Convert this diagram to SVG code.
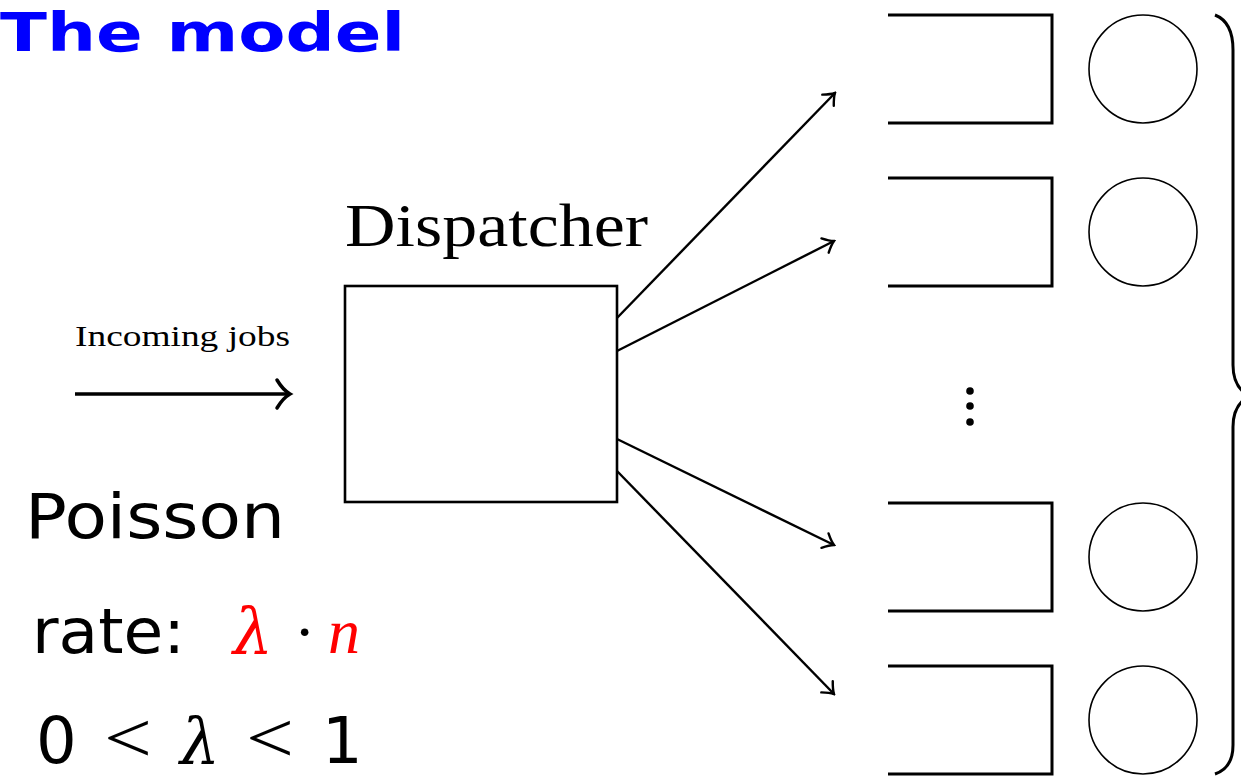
<svg xmlns="http://www.w3.org/2000/svg" width="1241" height="777" viewBox="0 0 1241 777">
<style>
.title{font-family:"DejaVu Sans","Liberation Sans",sans-serif;font-weight:bold;fill:#0000ff}
.serif{font-family:"Liberation Serif","DejaVu Serif",serif;fill:#000}
.sans{font-family:"DejaVu Sans","Liberation Sans",sans-serif;fill:#000}
.lam{font-family:"DejaVu Serif","Liberation Serif",serif;font-style:italic}
.mathit{font-family:"Liberation Serif","DejaVu Serif",serif;font-style:italic}
.rel{font-family:"Liberation Serif","DejaVu Serif",serif;fill:#000}
.queue{fill:none;stroke:#000;stroke-width:3}
.server{fill:none;stroke:#000;stroke-width:1.6}
.conn{fill:none;stroke:#000;stroke-width:2.4}
</style>
<defs>
<marker id="ah" markerUnits="userSpaceOnUse" viewBox="-14 -10 16 20" markerWidth="16" markerHeight="20" refX="0" refY="0" orient="auto">
<path d="M-10,-8 Q-4,-2 0,0 Q-4,2 -10,8" fill="none" stroke="#000" stroke-width="2.4" stroke-linecap="round"/>
</marker>
</defs>
<rect width="1241" height="777" fill="#fff"/>
<text class="title" x="0" y="51" font-size="54" textLength="405" lengthAdjust="spacingAndGlyphs">The model</text>

<g id="incoming">
<text class="serif" x="75" y="346" font-size="29" textLength="215" lengthAdjust="spacingAndGlyphs">Incoming jobs</text>
<line x1="75" y1="394" x2="289" y2="394" stroke="#000" stroke-width="3.5"/>
<path d="M277,380 Q283,390 290,394 Q283,398 277,408" fill="none" stroke="#000" stroke-width="3.5" stroke-linecap="round"/>
</g>

<g id="dispatcher">
<text class="serif" x="345" y="246" font-size="62" textLength="303" lengthAdjust="spacingAndGlyphs">Dispatcher</text>
<rect x="345" y="286" width="272" height="216" fill="none" stroke="#000" stroke-width="2.6"/>
</g>

<g id="connectors">
<line class="conn" x1="617" y1="318" x2="835" y2="93" marker-end="url(#ah)"/>
<line class="conn" x1="617" y1="351" x2="834" y2="241" marker-end="url(#ah)"/>
<line class="conn" x1="617" y1="439" x2="834" y2="545" marker-end="url(#ah)"/>
<line class="conn" x1="617" y1="471" x2="834" y2="694" marker-end="url(#ah)"/>
</g>

<g id="queue1">
<path class="queue" d="M888,15 H1052 V123 H888"/>
<circle class="server" cx="1143" cy="69" r="54"/>
</g>
<g id="queue2">
<path class="queue" d="M888,178 H1052 V286 H888"/>
<circle class="server" cx="1143" cy="232" r="54"/>
</g>
<g id="dots">
<circle cx="970" cy="391" r="3.8" fill="#000"/>
<circle cx="970" cy="406" r="3.8" fill="#000"/>
<circle cx="970" cy="422" r="3.8" fill="#000"/>
</g>
<g id="queue3">
<path class="queue" d="M888,503 H1052 V611 H888"/>
<circle class="server" cx="1143" cy="557" r="54"/>
</g>
<g id="queue4">
<path class="queue" d="M888,666 H1052 V774 H888"/>
<circle class="server" cx="1143" cy="720" r="54"/>
</g>

<g id="brace">
<path d="M1215,15 Q1233,22 1233,50 V365 Q1233,388 1250,396 Q1233,404 1233,427 V745 Q1233,768 1215,774" fill="none" stroke="#000" stroke-width="3"/>
</g>

<g id="poisson">
<text class="sans" x="25" y="538" font-size="63" textLength="260" lengthAdjust="spacingAndGlyphs">Poisson</text>
<text class="sans" x="32" y="653" font-size="63" textLength="153" lengthAdjust="spacingAndGlyphs">rate:</text>
<text fill="#ff0000" y="653"><tspan class="lam" x="233" font-size="63">λ</tspan><tspan class="rel" fill="#ff0000" x="294" font-size="64">·</tspan><tspan class="mathit" x="328" font-size="64">n</tspan></text>
<text class="sans" x="36" y="763" font-size="64">0</text>
<text class="rel" x="104" y="762" font-size="72" textLength="48" lengthAdjust="spacingAndGlyphs">&lt;</text>
<text class="lam" x="180" y="763" font-size="63">λ</text>
<text class="rel" x="246" y="762" font-size="72" textLength="48" lengthAdjust="spacingAndGlyphs">&lt;</text>
<text class="sans" x="322" y="763" font-size="64">1</text>
</g>
</svg>
